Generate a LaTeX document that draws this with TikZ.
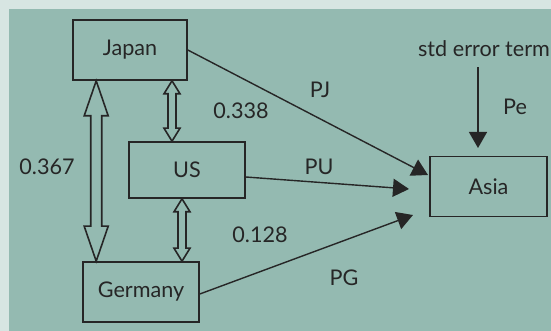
\documentclass[tikz,border=0pt]{standalone}
\usepackage{fontspec}
\setmainfont{Lato}
\usetikzlibrary{arrows.meta,calc}
\definecolor{outer}{RGB}{215,229,226}
\definecolor{panel}{RGB}{148,186,177}
\definecolor{ink}{RGB}{38,38,38}
\tikzset{
  box/.style={draw=ink, line width=0.8pt, minimum width=57pt, minimum height=30pt, inner sep=0pt},
  pathline/.style={draw=ink, line width=0.7pt, -{Triangle[width=9pt,length=8pt]}},
  dblarrow/.style={draw=ink, line width=0.8pt, line join=miter},
  lbl/.style={text=ink, font=\fontsize{10.8}{12}\selectfont}
}
\begin{document}
\begin{tikzpicture}[x=0.5pt, y=-0.5pt, every node/.style={lbl}]
%% background and panel
\useasboundingbox (0,0) rectangle (551,331);
\fill[outer] (0,0) rectangle (551,331);
\fill[panel] (9,9) rectangle (551,331);

%% the four boxes
\node[box] (japan) at (130,50) {Japan};
\node[box, minimum height=28pt, minimum width=58pt] (us) at (187,170) {US};
\node[box, minimum width=58pt] (germany) at (141,292) {Germany};
\node[box, minimum width=58.5pt] (asia) at (488.5,186.5) {Asia};
\node[inner sep=5pt] (err) at (484,49) {std error term};

%% free ends of the paths into Asia
\coordinate (pj-end) at (428,175);
\coordinate (pu-end) at (409,189);
\coordinate (pg-end) at (413,215);
\coordinate (pe-end) at (478,148);

\draw[pathline] (japan.east) -- (pj-end);
\draw[pathline] ([yshift=-3.5pt]us.east) -- (pu-end);
\draw[pathline] ([yshift=-1pt]germany.east) -- (pg-end);
\draw[pathline] (err.south -| pe-end) -- (pe-end);

%% correlations as hollow double arrows
\coordinate (jg-top) at ([xshift=12pt]japan.south west);
\coordinate (jg-bot) at (jg-top |- germany.north);
\draw[dblarrow] (jg-top) -- ++(12,35) -- ++(-6.5,0) -- ($(jg-bot)+(5.5,-35)$) -- ++(6.5,0)
  -- (jg-bot) -- ++(-12,-35) -- ++(6.5,0) -- ($(jg-top)+(-5.5,35)$) -- ++(-6.5,0) -- cycle;

\coordinate (ju-top) at ([xshift=21pt]japan.south);
\coordinate (ju-bot) at (ju-top |- us.north);
\draw[dblarrow] (ju-top) -- ++(8,13) -- ++(-4,0) -- ($(ju-bot)+(4,-13)$) -- ++(4,0)
  -- (ju-bot) -- ++(-8,-13) -- ++(4,0) -- ($(ju-top)+(-4,13)$) -- ++(-4,0) -- cycle;

\coordinate (ug-top) at ([xshift=-2.5pt]us.south);
\coordinate (ug-bot) at (ug-top |- germany.north);
\draw[dblarrow] (ug-top) -- ++(8,13) -- ++(-4,0) -- ($(ug-bot)+(4,-13)$) -- ++(4,0)
  -- (ug-bot) -- ++(-8,-13) -- ++(4,0) -- ($(ug-top)+(-4,13)$) -- ++(-4,0) -- cycle;

%% coefficients
\node (r-jg) at (47,167) {0.367};
\node (r-ju) at (241,111) {0.338};
\node (r-ug) at (260,235) {0.128};
\node (l-pj) at (320,90) {PJ};
\node (l-pu) at (319,167) {PU};
\node (l-pg) at (344,278) {PG};
\node (l-pe) at (515,107) {Pe};
\end{tikzpicture}
\end{document}
